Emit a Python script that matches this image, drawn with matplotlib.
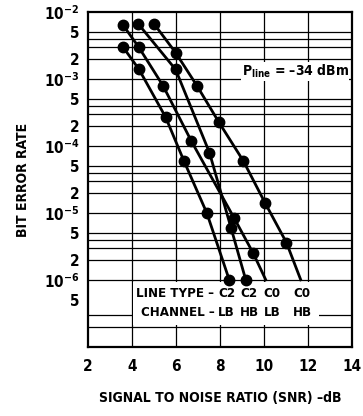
import matplotlib
matplotlib.use("Agg")
import matplotlib.pyplot as plt
from matplotlib.patches import Rectangle

# curve data (SNR in dB, bit error rate)
c2_lb_snr = [3.6, 4.32, 5.53, 6.36, 7.40, 8.42]
c2_lb_ber = [3.0e-3, 1.4e-3, 2.7e-4, 6.0e-5, 1.0e-5, 1.0e-6]

c2_hb_snr = [4.27, 5.98, 7.52, 8.50, 9.17]
c2_hb_ber = [6.8e-3, 1.4e-3, 8.0e-5, 6.0e-6, 1.0e-6]

c0_lb_snr = [3.6, 4.31, 5.41, 6.69, 8.65, 9.51, 10.08]
c0_lb_ber = [6.4e-3, 3.0e-3, 8.0e-4, 1.2e-4, 8.3e-6, 2.5e-6, 1.0e-6]

c0_hb_snr = [4.99, 5.98, 6.95, 7.94, 9.06, 10.04, 11.02, 11.67]
c0_hb_ber = [6.8e-3, 2.5e-3, 8.0e-4, 2.3e-4, 6.0e-5, 1.43e-5, 3.6e-6, 1.0e-6]

x_ticks = [2, 4, 6, 8, 10, 12, 14]
y_major = [1e-2, 1e-3, 1e-4, 1e-5, 1e-6]
y_major_labels = [r"$10^{-2}$", r"$10^{-3}$", r"$10^{-4}$", r"$10^{-5}$", r"$10^{-6}$"]
y_minor = [5e-3, 2e-3, 5e-4, 2e-4, 5e-5, 2e-5, 5e-6, 2e-6, 5e-7]
y_minor_labels = ["5", "2", "5", "2", "5", "2", "5", "2", "5"]

# horizontal rulings of the printed grid paper
h_lines = [1e-3, 1e-4, 1e-5, 1e-6,
           5e-3, 4e-3, 3e-3, 2e-3,
           5e-4, 4e-4, 3e-4, 2e-4,
           5e-5, 4e-5, 3e-5, 2e-5,
           5e-6, 4e-6, 3e-6, 2e-6,
           3e-7, 2e-7]

legend_cols = [("C2", "LB"), ("C2", "HB"), ("C0", "LB"), ("C0", "HB")]

MATH_FONT = "DejaVu Sans:weight=bold:stretch=condensed"
plt.rcParams["font.family"] = ["DejaVu Sans"]
plt.rcParams["font.stretch"] = "condensed"
plt.rcParams["font.weight"] = "bold"
plt.rcParams["axes.labelweight"] = "bold"
plt.rcParams["mathtext.fontset"] = "custom"
plt.rcParams["mathtext.rm"] = MATH_FONT
plt.rcParams["mathtext.it"] = MATH_FONT
plt.rcParams["mathtext.bf"] = MATH_FONT


def main():
    fig = plt.figure(figsize=(3.63, 4.16), dpi=100)
    ax = fig.add_axes([0.2424, 0.1666, 0.7273, 0.8038])

    ax.set_yscale("log")
    ax.set_xlim(2, 14)
    ax.set_ylim(1e-7, 1e-2)

    for y in h_lines:
        ax.axhline(y, color="black", lw=0.9, zorder=1)
    for x in x_ticks[1:-1]:
        ax.axvline(x, color="black", lw=0.9, zorder=1)

    # white patch behind the line type / channel table
    ax.add_patch(Rectangle((4.04, 2.12e-7), 8.45, 9.3e-7 - 2.12e-7,
                           facecolor="white", edgecolor="none", zorder=2))

    line_kw = dict(color="black", lw=2.0, marker="o", ms=7.5, zorder=3)
    ax.plot(c2_lb_snr, c2_lb_ber, **line_kw)
    ax.plot(c2_hb_snr, c2_hb_ber, **line_kw)
    ax.plot(c0_lb_snr, c0_lb_ber, markevery=list(range(len(c0_lb_snr) - 1)), **line_kw)
    ax.plot(c0_hb_snr, c0_hb_ber, markevery=list(range(len(c0_hb_snr) - 1)), **line_kw)

    ax.text(13.85, 1.3e-3, r"$P_{line}$ = –34 dBm", ha="right", va="center",
            fontsize=10, zorder=4,
            bbox=dict(facecolor="white", edgecolor="none", pad=0.5))

    # table under the curves
    ax.text(7.75, 6.3e-7, "LINE TYPE –", ha="right", va="center", fontsize=9.5, zorder=4)
    ax.text(7.75, 3.25e-7, "CHANNEL –", ha="right", va="center", fontsize=9.5, zorder=4)
    for x, (ltype, chan) in zip([8.3, 9.33, 10.37, 11.73], legend_cols):
        ax.text(x, 6.3e-7, ltype, ha="center", va="center", fontsize=9.5, zorder=4)
        ax.text(x, 3.25e-7, chan, ha="center", va="center", fontsize=9.5, zorder=4)

    ax.set_xticks(x_ticks)
    ax.set_xticklabels([str(t) for t in x_ticks])
    ax.set_yticks(y_major)
    ax.set_yticklabels(y_major_labels)
    ax.set_yticks(y_minor, minor=True)
    ax.set_yticklabels(y_minor_labels, minor=True)
    ax.tick_params(axis="both", which="both", length=0, labelsize=11)
    ax.tick_params(axis="x", pad=9)
    ax.tick_params(axis="y", which="both", pad=6)

    for s in ax.spines.values():
        s.set_linewidth(1.6)

    ax.set_xlabel("SIGNAL TO NOISE RATIO (SNR) –dB", fontsize=10, labelpad=12)
    ax.set_ylabel("BIT ERROR RATE", fontsize=10, labelpad=10)

    fig.savefig("out.png", dpi=100)


if __name__ == "__main__":
    main()
